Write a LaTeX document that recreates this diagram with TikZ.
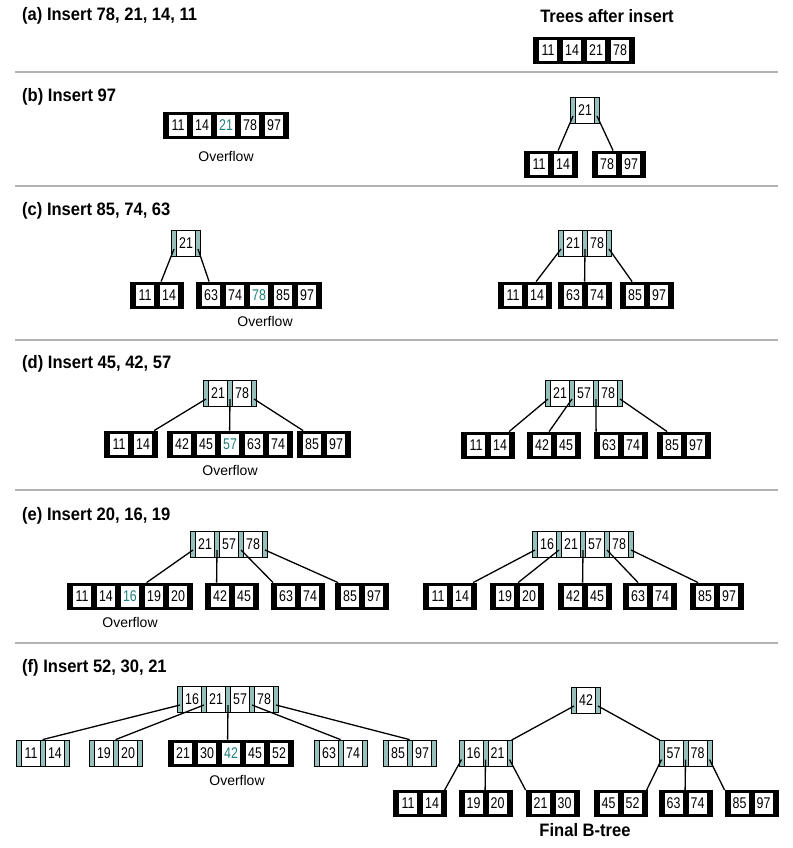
\documentclass[tikz,border=0pt]{standalone}
\usepackage{fontspec}
\setmainfont{Liberation Sans}
\newfontfamily\keyfam[FakeStretch=0.8]{Liberation Sans}
\newfontfamily\titlefam[FakeStretch=0.92]{Liberation Sans}
\usetikzlibrary{calc}
\definecolor{tealstrip}{RGB}{150,192,188}
\definecolor{hlteal}{RGB}{32,128,124}
\definecolor{sepgray}{RGB}{178,178,178}
\newcommand\hl[1]{\textcolor{hlteal}{#1}}
\newcommand\bkeyfont{\keyfam\fontsize{15.5}{15.5}\selectfont}
\newcommand\btitlefont{\titlefam\bfseries\fontsize{18}{18}\selectfont}
\newcommand\bovfont{\fontsize{14}{14}\selectfont}
\tikzset{
  bnode-lf/.style={draw=black, fill=black, minimum height=26pt, inner sep=0pt, line width=0.8pt},
  bnode-in/.style={draw=black, fill=tealstrip, minimum height=26pt, inner sep=0pt, line width=0.8pt},
  kbox-lf/.style={draw=black, fill=white, minimum width=19pt, minimum height=22pt, inner sep=0pt, line width=0.8pt, font=\bkeyfont},
  kbox-in/.style={draw=black, fill=white, minimum width=19pt, minimum height=26pt, inner sep=0pt, line width=0.8pt, font=\bkeyfont},
  edge/.style={line width=1.3pt, black},
  sectitle/.style={font=\btitlefont, anchor=west, inner sep=0pt},
  bigtitle/.style={font=\btitlefont, inner sep=0pt},
  ovflabel/.style={font=\bovfont, inner sep=0pt},
  sepline/.style={line width=1.5pt, sepgray}
}
\newcommand\btn[6]{%
  \pgfmathsetmacro\bW{24*#4+5}%
  \pgfmathsetmacro\bX{#2-\bW/2}%
  \node[bnode-#5, minimum width=\bW pt] (#1) at (#2,#3) {};%
  \foreach \k [count=\i from 0] in {#6} {%
    \node[kbox-#5] at ({\bX+14.5+24*\i},#3) {\k};%
  }%
  \foreach \j in {0,...,#4} {%
    \coordinate (#1-p\j) at ({\bX+2.5+24*\j},{#3+6});%
  }%
}
\begin{document}
\begin{tikzpicture}[x=1pt,y=-1pt]
\useasboundingbox (0,0) rectangle (792,848);
\fill[white] (0,0) rectangle (792,848);
% separators
\draw[sepline] (15,72) -- (778,72);
\draw[sepline] (15,186) -- (778,186);
\draw[sepline] (15,340) -- (778,340);
\draw[sepline] (15,490) -- (778,490);
\draw[sepline] (15,643) -- (778,643);
% titles
\node[sectitle] (ta) at (22,16) {(a) Insert 78, 21, 14, 11};
\node[bigtitle] (tt) at (607,16) {Trees after insert};
\node[sectitle] (tb) at (22,97) {(b) Insert 97};
\node[sectitle] (tc) at (22,211) {(c) Insert 85, 74, 63};
\node[sectitle] (td) at (22,364) {(d) Insert 45, 42, 57};
\node[sectitle] (te) at (22,516) {(e) Insert 20, 16, 19};
\node[sectitle] (tf) at (22,668) {(f) Insert 52, 30, 21};
\node[bigtitle] (tfin) at (585,830) {Final B-tree};
% (a)
\btn{a1}{584}{50}{4}{lf}{11,14,21,78}
% (b)
\btn{b1}{226}{125}{5}{lf}{11,14,\hl{21},78,97}
\node[ovflabel] (bov) at (226,156) {Overflow};
\btn{b2r}{585}{110}{1}{in}{21}
\btn{b2a}{551}{164}{2}{lf}{11,14}
\btn{b2b}{619}{164}{2}{lf}{78,97}
\draw[edge] (b2r-p0) -- ([xshift=34pt]b2a.north west);
\draw[edge] (b2r-p1) -- ([xshift=21pt]b2b.north west);
% (c)
\btn{c1r}{186}{243}{1}{in}{21}
\btn{c1a}{157}{295}{2}{lf}{11,14}
\btn{c1b}{259}{295}{5}{lf}{63,74,\hl{78},85,97}
\node[ovflabel] (cov) at (265,321) {Overflow};
\draw[edge] (c1r-p0) -- ([xshift=31pt]c1a.north west);
\draw[edge] (c1r-p1) -- ([xshift=13pt]c1b.north west);
\btn{c2r}{585}{243}{2}{in}{21,78}
\btn{c2a}{525}{295}{2}{lf}{11,14}
\btn{c2b}{585}{295}{2}{lf}{63,74}
\btn{c2c}{647}{295}{2}{lf}{85,97}
\draw[edge] (c2r-p0) -- ([xshift=38pt]c2a.north west);
\draw[edge] (c2r-p1) -- ([xshift=26.5pt]c2b.north west);
\draw[edge] (c2r-p2) -- ([xshift=12pt]c2c.north west);
% (d)
\btn{d1r}{230}{393}{2}{in}{21,78}
\btn{d1a}{131}{444}{2}{lf}{11,14}
\btn{d1b}{230}{444}{5}{lf}{42,45,\hl{57},63,74}
\btn{d1c}{324}{444}{2}{lf}{85,97}
\node[ovflabel] (dov) at (230,470) {Overflow};
\draw[edge] (d1r-p0) -- ([xshift=50pt]d1a.north west);
\draw[edge] (d1r-p1) -- ([xshift=62.5pt]d1b.north west);
\draw[edge] (d1r-p2) -- ([xshift=6pt]d1c.north west);
\btn{d2r}{584}{393}{3}{in}{21,57,78}
\btn{d2a}{488}{445}{2}{lf}{11,14}
\btn{d2b}{554}{445}{2}{lf}{42,45}
\btn{d2c}{621}{445}{2}{lf}{63,74}
\btn{d2d}{684}{445}{2}{lf}{85,97}
\draw[edge] (d2r-p0) -- ([xshift=48pt]d2a.north west);
\draw[edge] (d2r-p1) -- ([xshift=22pt]d2b.north west);
\draw[edge] (d2r-p2) -- ([xshift=2pt]d2c.north west);
\draw[edge] (d2r-p3) -- ([xshift=10pt]d2d.north west);
% (e)
\btn{e1r}{229}{544}{3}{in}{21,57,78}
\btn{e1a}{130}{596}{5}{lf}{11,14,\hl{16},19,20}
\btn{e1b}{232}{596}{2}{lf}{42,45}
\btn{e1c}{298}{596}{2}{lf}{63,74}
\btn{e1d}{362}{596}{2}{lf}{85,97}
\node[ovflabel] (eov) at (130,622) {Overflow};
\draw[edge] (e1r-p0) -- ([xshift=79.5pt]e1a.north west);
\draw[edge] (e1r-p1) -- ([xshift=11.5pt]e1b.north west);
\draw[edge] (e1r-p2) -- ([xshift=2pt]e1c.north west);
\draw[edge] (e1r-p3) -- ([xshift=3pt]e1d.north west);
\btn{e2r}{583}{544}{4}{in}{16,21,57,78}
\btn{e2a}{450}{596}{2}{lf}{11,14}
\btn{e2b}{517}{596}{2}{lf}{19,20}
\btn{e2c}{585}{596}{2}{lf}{42,45}
\btn{e2d}{650}{596}{2}{lf}{63,74}
\btn{e2e}{717}{596}{2}{lf}{85,97}
\draw[edge] (e2r-p0) -- ([xshift=50pt]e2a.north west);
\draw[edge] (e2r-p1) -- ([xshift=28pt]e2b.north west);
\draw[edge] (e2r-p2) -- ([xshift=24.5pt]e2c.north west);
\draw[edge] (e2r-p3) -- ([xshift=15pt]e2d.north west);
\draw[edge] (e2r-p4) -- ([xshift=8pt]e2e.north west);
% (f)
\btn{f1r}{228}{699}{4}{in}{16,21,57,78}
\btn{f1a}{43}{753}{2}{in}{11,14}
\btn{f1b}{116}{753}{2}{in}{19,20}
\btn{f1c}{231}{753}{5}{lf}{21,30,\hl{42},45,52}
\btn{f1d}{341}{753}{2}{in}{63,74}
\btn{f1e}{410}{753}{2}{in}{85,97}
\node[ovflabel] (fov) at (237,780) {Overflow};
\draw[edge] (f1r-p0) -- ([xshift=26.5pt]f1a.north west);
\draw[edge] (f1r-p1) -- ([xshift=26.5pt]f1b.north west);
\draw[edge] (f1r-p2) -- ([xshift=59.5pt]f1c.north west);
\draw[edge] (f1r-p3) -- ([xshift=26.5pt]f1d.north west);
\draw[edge] (f1r-p4) -- ([xshift=26.5pt]f1e.north west);
\btn{f2r}{586}{700}{1}{in}{42}
\btn{f2a}{485.5}{753.5}{2}{in}{16,21}
\btn{f2b}{685.5}{753.5}{2}{in}{57,78}
\btn{f2c}{420}{803.5}{2}{lf}{11,14}
\btn{f2d}{485.5}{803.5}{2}{lf}{19,20}
\btn{f2e}{552.5}{803.5}{2}{lf}{21,30}
\btn{f2f}{620.5}{803.5}{2}{lf}{45,52}
\btn{f2g}{685.5}{803.5}{2}{lf}{63,74}
\btn{f2h}{751.5}{803.5}{2}{lf}{85,97}
\draw[edge] (f2r-p0) -- ([xshift=53pt]f2a.north west);
\draw[edge] (f2r-p1) -- ([xshift=1pt]f2b.north west);
\draw[edge] (f2a-p0) -- ([xshift=51.5pt]f2c.north west);
\draw[edge] (f2a-p1) -- ([xshift=26.5pt]f2d.north west);
\draw[edge] (f2a-p2) -- ([xshift=0pt]f2e.north west);
\draw[edge] (f2b-p0) -- ([xshift=53pt]f2f.north west);
\draw[edge] (f2b-p1) -- ([xshift=26.5pt]f2g.north west);
\draw[edge] (f2b-p2) -- ([xshift=0pt]f2h.north west);
\end{tikzpicture}
\end{document}
